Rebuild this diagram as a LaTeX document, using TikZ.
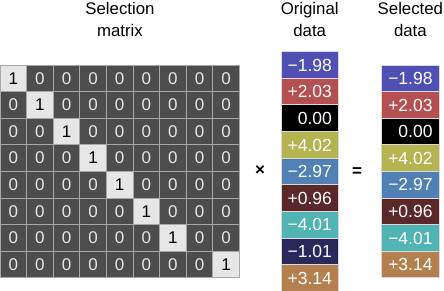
\documentclass[tikz,border=0pt]{standalone}
\usepackage{fontspec}
\setmainfont{Liberation Sans}
\definecolor{mdark}{HTML}{4D4D4D}
\definecolor{mlight}{HTML}{E6E6E6}
\definecolor{mline}{HTML}{A8A8A8}
\definecolor{dA}{HTML}{5050B4}
\definecolor{dB}{HTML}{B45050}
\definecolor{dC}{HTML}{000000}
\definecolor{dD}{HTML}{B4B450}
\definecolor{dE}{HTML}{5080B4}
\definecolor{dF}{HTML}{5A2828}
\definecolor{dG}{HTML}{50B4B4}
\definecolor{dH}{HTML}{28285A}
\definecolor{dI}{HTML}{B48050}
\tikzset{
  mcell/.style={rectangle, minimum width=26.6pt, minimum height=26.6pt, inner sep=0pt,
    draw=mline, line width=0.8pt, font=\fontsize{17}{17}\selectfont},
  zerocell/.style={mcell, fill=mdark, text=mlight},
  onecell/.style={mcell, fill=mlight, text=black},
  dcell/.style={rectangle, minimum width=57.3pt, minimum height=26.6pt, text width=44.3pt,
    inner xsep=6.5pt, inner ysep=0pt, align=right, text height=12.5pt, text depth=0pt,
    draw=white!85!black, line width=0.8pt, text=white, font=\fontsize{17.5}{17.5}\selectfont},
  title/.style={align=center, inner sep=0pt, anchor=north, font=\fontsize{16.8}{22.5}\selectfont},
  op/.style={inner sep=0pt, font=\fontsize{17}{17}\selectfont\bfseries}
}
\begin{document}
\begin{tikzpicture}[x=1pt,y=-1pt]
\useasboundingbox (0,0) rectangle (444,291);
% titles
\node[title] (tsel) at (120,1.8) {Selection\\matrix};
\node[title] (torig) at (309.7,1.8) {Original\\data};
\node[title] (tres) at (410.4,1.8) {Selected\\data};
% selection matrix
\foreach \r/\oc in {1/1,2/2,3/3,4/4,5/5,6/6,7/7,8/9}{
  \foreach \c in {1,...,9}{
    \ifnum\c=\oc
      \node[onecell] (m-\r-\c) at ({(\c-0.5)*26.6},{65+(\r-0.5)*26.6}) {1};
    \else
      \node[zerocell] (m-\r-\c) at ({(\c-0.5)*26.6},{65+(\r-0.5)*26.6}) {0};
    \fi
  }
}
% operators
\node[op] (times) at (260,171) {×};
\node[op] (equals) at (357,172) {=};
% original data
\node[dcell, fill=dA] (o1) at (309.7,65) {−1.98};
\node[dcell, fill=dB] (o2) at (309.7,91.6) {+2.03};
\node[dcell, fill=dC] (o3) at (309.7,118.2) {0.00};
\node[dcell, fill=dD] (o4) at (309.7,144.8) {+4.02};
\node[dcell, fill=dE] (o5) at (309.7,171.4) {−2.97};
\node[dcell, fill=dF] (o6) at (309.7,198.0) {+0.96};
\node[dcell, fill=dG] (o7) at (309.7,224.6) {−4.01};
\node[dcell, fill=dH] (o8) at (309.7,251.2) {−1.01};
\node[dcell, fill=dI] (o9) at (309.7,277.8) {+3.14};
% selected data
\node[dcell, fill=dA] (s1) at (410.4,78.3) {−1.98};
\node[dcell, fill=dB] (s2) at (410.4,104.9) {+2.03};
\node[dcell, fill=dC] (s3) at (410.4,131.5) {0.00};
\node[dcell, fill=dD] (s4) at (410.4,158.1) {+4.02};
\node[dcell, fill=dE] (s5) at (410.4,184.7) {−2.97};
\node[dcell, fill=dF] (s6) at (410.4,211.3) {+0.96};
\node[dcell, fill=dG] (s7) at (410.4,237.9) {−4.01};
\node[dcell, fill=dI] (s8) at (410.4,264.5) {+3.14};
\end{tikzpicture}
\end{document}
